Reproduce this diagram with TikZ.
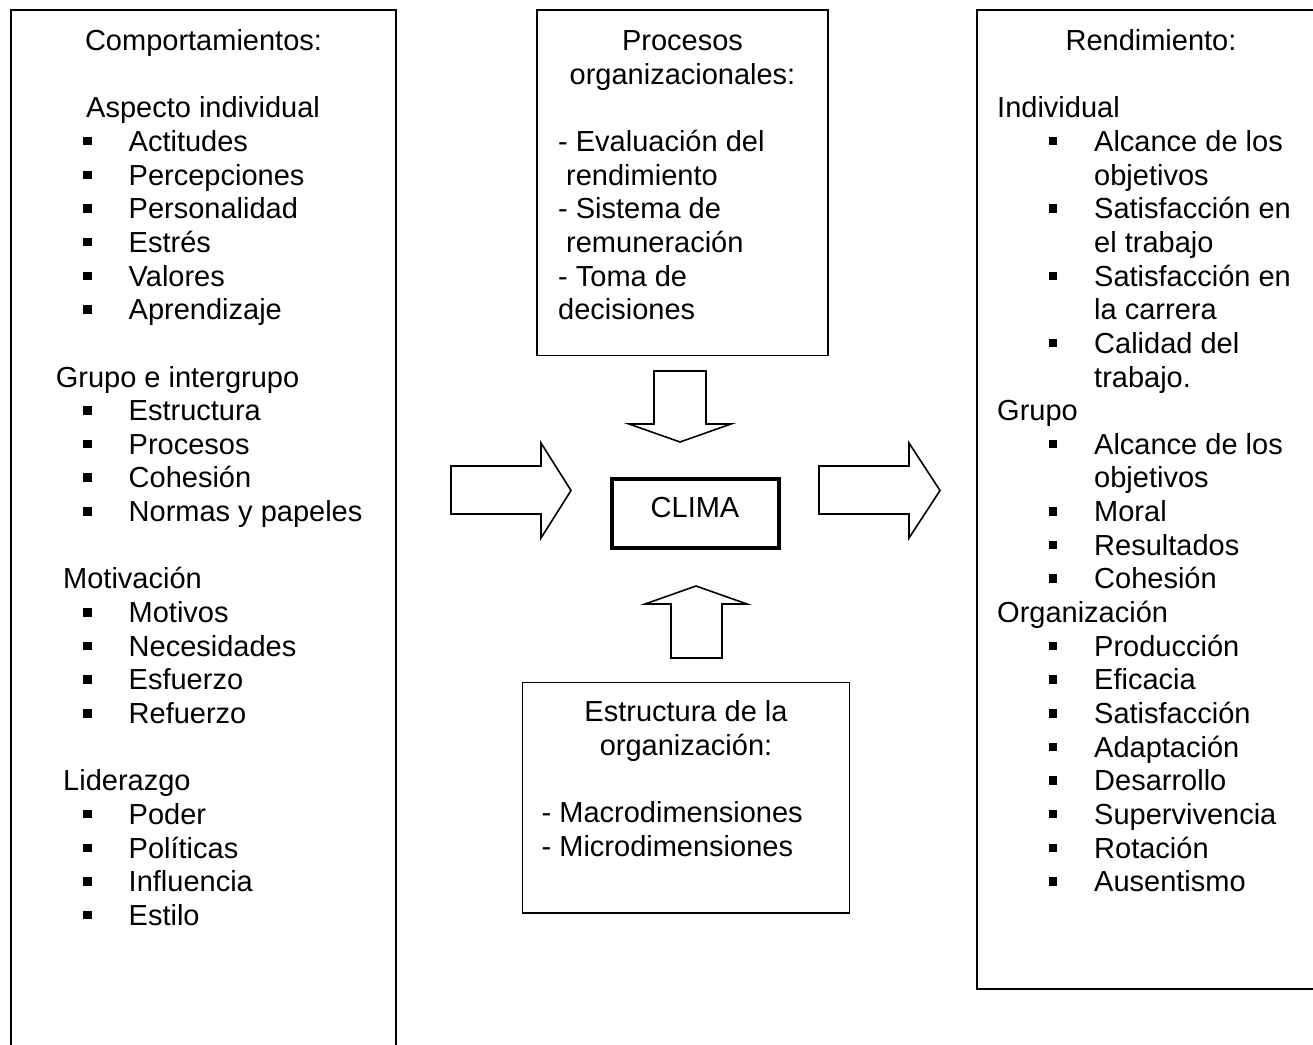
\documentclass[tikz,border=0pt]{standalone}
\usepackage{fontspec}
\setmainfont{Liberation Sans}
% body text size and line pitch
\newcommand\fs{\fontsize{29}{33.65}\selectfont}
% square bullet hung to the left of an item
\newcommand\sqbullet{\rule[6pt]{8.5pt}{8.5pt}}
\newcommand\withbullet{\llap{\sqbullet\hspace{37pt}}}
\begin{document}
\begin{tikzpicture}[x=1pt,y=-1pt,
  panel/.style={draw, line width=1.6pt, anchor=north west, inner sep=0pt, outer sep=0pt},
  climabox/.style={draw, line width=4pt, inner sep=0pt},
  blockarrow/.style={draw, line width=1.6pt, line join=miter, fill=white},
  txt/.style={inner sep=0pt, anchor=base west, font=\fs},
  ctr/.style={inner sep=0pt, anchor=base, font=\fs}
]
\useasboundingbox (0,0) rectangle (1313,1044);
\clip (0,0) rectangle (1313,1044);

% ---------------- left panel: Comportamientos ----------------
\node[panel, minimum width=385pt, minimum height=1100pt] (comp) at (11,10) {};
\node[ctr] (comp-t) at (203.5,50.5) {Comportamientos:};
\foreach \r/\x/\t in {2/86/Aspecto individual, 10/55.6/Grupo e intergrupo,
                      16/63/Motivación, 22/63/Liderazgo}
  \node[txt] (comp-h\r) at (\x, 50.5+33.65*\r) {\t};
\foreach \r/\t in {3/Actitudes, 4/Percepciones, 5/Personalidad, 6/Estrés,
                   7/Valores, 8/Aprendizaje, 11/Estructura, 12/Procesos,
                   13/Cohesión, 14/Normas y papeles, 17/Motivos, 18/Necesidades,
                   19/Esfuerzo, 20/Refuerzo, 23/Poder, 24/Políticas,
                   25/Influencia, 26/Estilo}
  \node[txt] (comp-i\r) at (128.5, 50.5+33.65*\r) {\withbullet\t};

% ---------------- top middle panel: Procesos ----------------
\node[panel, minimum width=291pt, minimum height=345.5pt] (proc) at (537,10) {};
\node[ctr] (proc-t1) at (682.5,50.5) {Procesos};
\node[ctr] (proc-t2) at (682.5,84.15) {organizacionales:};
\foreach \r/\x/\t in {3/558/- Evaluación del, 4/566/rendimiento,
                      5/558/- Sistema de, 6/566/remuneración,
                      7/558/- Toma de, 8/558/decisiones}
  \node[txt] (proc-l\r) at (\x, 50.5+33.65*\r) {\t};

% ---------------- right panel: Rendimiento ----------------
\node[panel, minimum width=360pt, minimum height=979pt] (rend) at (977,10) {};
\node[ctr] (rend-t) at (1151,50.5) {Rendimiento:};
\foreach \r/\t in {2/Individual, 11/Grupo, 17/Organización}
  \node[txt] (rend-h\r) at (997, 50.5+33.65*\r) {\t};
\foreach \r/\t in {3/Alcance de los, 5/Satisfacción en, 7/Satisfacción en,
                   9/Calidad del, 12/Alcance de los, 14/Moral, 15/Resultados,
                   16/Cohesión, 18/Producción, 19/Eficacia, 20/Satisfacción,
                   21/Adaptación, 22/Desarrollo, 23/Supervivencia,
                   24/Rotación, 25/Ausentismo}
  \node[txt] (rend-i\r) at (1094, 50.5+33.65*\r) {\withbullet\t};
\foreach \r/\t in {4/objetivos, 6/el trabajo, 8/la carrera, 10/trabajo.,
                   13/objetivos}
  \node[txt] (rend-c\r) at (1094, 50.5+33.65*\r) {\t};

% ---------------- bottom middle panel: Estructura ----------------
\node[panel, minimum width=327pt, minimum height=230.5pt] (estr) at (522.5,682.5) {};
\node[ctr] (estr-t1) at (686,721.5) {Estructura de la};
\node[ctr] (estr-t2) at (686,755.15) {organización:};
\node[txt] (estr-a) at (541.5,822.45) {- Macrodimensiones};
\node[txt] (estr-b) at (541.5,856.1) {- Microdimensiones};

% ---------------- centre: CLIMA ----------------
\node[climabox, minimum width=167pt, minimum height=69pt] (clima) at (695.5,513.5) {};
\node[ctr] (clima-t) at (695,517) {CLIMA};

% ---------------- block arrows ----------------
% from the left panel
\draw[blockarrow] (451,466) -- (541,466) -- (541,443) -- (571,490.5)
  -- (541,538) -- (541,514) -- (451,514) -- cycle;
% towards the right panel
\draw[blockarrow] (819,466) -- (909,466) -- (909,443) -- (940,490.5)
  -- (909,538) -- (909,514) -- (819,514) -- cycle;
% down from the processes panel
\draw[blockarrow] (654,371) -- (706,371) -- (706,424) -- (731,424)
  -- (680,442) -- (629,424) -- (654,424) -- cycle;
% up from the structure panel
\draw[blockarrow] (671,658) -- (722,658) -- (722,604) -- (747,604)
  -- (696,586) -- (645,604) -- (671,604) -- cycle;
\end{tikzpicture}
\end{document}
